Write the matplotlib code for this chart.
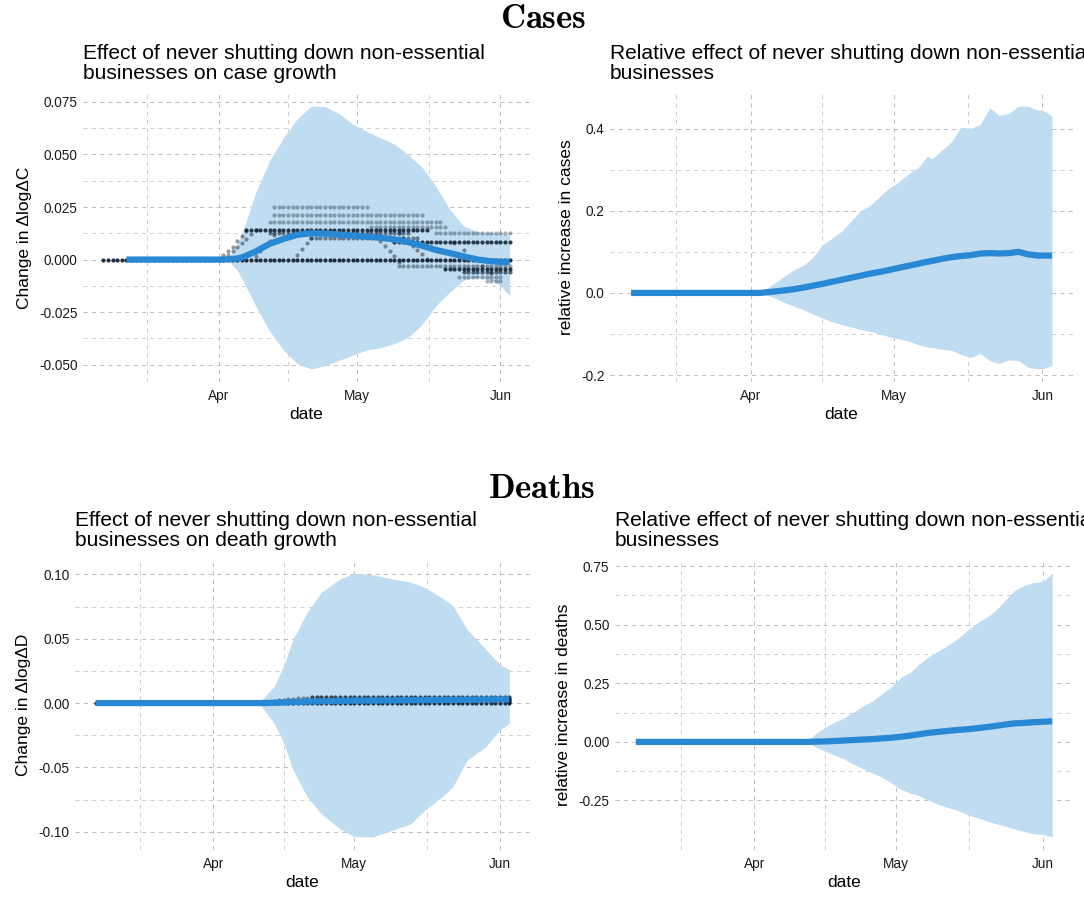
import numpy as np
import matplotlib
matplotlib.use("Agg")
import matplotlib.pyplot as plt
import matplotlib.dates as mdates

plt.rcParams['font.family'] = ['Liberation Sans', 'DejaVu Sans']
plt.rcParams['mathtext.fontset'] = 'cm'
plt.rcParams['axes.unicode_minus'] = False

start = np.datetime64('2020-03-07')   # day 0; Apr 1 = day 25, Jun 3 = day 88

# ---- cases: change in dlogdC (top left)
c_days = [5, 25, 27, 29, 30, 33, 36, 39, 42, 45, 48, 51, 54, 57, 60, 63, 66, 69, 72, 75, 78, 81, 84, 86, 88]
c_hi = [0, 0, 0.0005, 0.007, 0.012, 0.032, 0.047, 0.058, 0.067, 0.073, 0.0728, 0.0695, 0.0645, 0.061, 0.058,
        0.055, 0.050, 0.044, 0.035, 0.024, 0.016, 0.0133, 0.0126, 0.0122, 0.012]
c_lo = [0, 0, -0.0005, -0.005, -0.009, -0.022, -0.034, -0.043, -0.0495, -0.052, -0.0505, -0.048, -0.0455, -0.043,
        -0.042, -0.040, -0.037, -0.031, -0.022, -0.0155, -0.0098, -0.0085, -0.0098, -0.0125, -0.0173]
c_mean = [0, 0, 0.0001, 0.0005, 0.001, 0.0038, 0.0075, 0.0098, 0.0118, 0.0125, 0.0123, 0.0119, 0.0114, 0.0109,
          0.0104, 0.0096, 0.0083, 0.0066, 0.0046, 0.0031, 0.0015, 0.0, -0.0008, -0.0011, -0.0011]

# state-level effects: flat runs (value, first day, last day, opacity)
c_rows = [(0.0, 0, 88, 0.9), (0.0252, 37, 57, 0.35), (0.0212, 37, 69, 0.35), (0.0178, 36, 73, 0.35),
          (0.0155, 58, 74, 0.35), (0.0142, 31, 70, 0.85), (0.0127, 72, 88, 0.35), (0.0125, 36, 66, 0.55),
          (0.0105, 45, 68, 0.5), (0.0084, 63, 88, 0.85), (-0.003, 64, 88, 0.4), (-0.0045, 74, 88, 0.85),
          (-0.006, 78, 88, 0.65), (-0.0085, 77, 86, 0.35), (-0.010, 83, 86, 0.35)]
# state-level effects: sloped stretches (days, values)
c_ramps = [([26, 27, 28, 29, 30, 31], [0.002, 0.004, 0.006, 0.009, 0.011, 0.0135]),
           ([27, 28, 29, 30, 31, 32, 33], [0.002, 0.004, 0.006, 0.008, 0.010, 0.012, 0.014]),
           ([33, 34, 35, 36, 37], [0.0015, 0.004, 0.0065, 0.009, 0.0115]),
           ([42, 43, 44, 45, 46], [0.002, 0.005, 0.008, 0.0105, 0.0125]),
           ([59, 60, 61, 62, 63, 64], [0.0115, 0.009, 0.0065, 0.004, 0.0015, -0.001]),
           ([64, 65, 66, 67, 68, 69, 70], [0.0125, 0.0105, 0.0085, 0.0065, 0.0045, 0.0025, 0.0005]),
           ([76, 78, 80, 82, 84], [0.0080, 0.0045, 0.001, -0.003, -0.0065])]

# ---- cases: relative increase (top right)
rc_days = [0, 27, 30, 32, 34, 36, 38, 40, 42, 44, 46, 48, 50, 52, 54, 56, 58, 60, 62, 63, 65, 67, 69, 71, 73,
           75, 77, 79, 81, 83, 85, 86, 88]
rc_hi = [0, 0, 0.024, 0.040, 0.056, 0.067, 0.086, 0.117, 0.133, 0.150, 0.175, 0.200, 0.213, 0.235, 0.256, 0.271,
         0.290, 0.305, 0.333, 0.327, 0.348, 0.368, 0.404, 0.401, 0.410, 0.451, 0.432, 0.437, 0.455, 0.455, 0.445,
         0.446, 0.431]
rc_lo = [0, 0, -0.012, -0.023, -0.032, -0.041, -0.051, -0.061, -0.070, -0.077, -0.083, -0.089, -0.094, -0.100,
         -0.107, -0.112, -0.117, -0.126, -0.132, -0.133, -0.137, -0.140, -0.150, -0.157, -0.148, -0.165, -0.172,
         -0.163, -0.165, -0.181, -0.185, -0.185, -0.177]
rc_mean = [0, 0, 0.0035, 0.006, 0.009, 0.013, 0.0175, 0.022, 0.027, 0.032, 0.037, 0.042, 0.047, 0.051, 0.056,
           0.061, 0.066, 0.071, 0.076, 0.078, 0.083, 0.087, 0.090, 0.092, 0.096, 0.097, 0.096, 0.097, 0.100,
           0.094, 0.091, 0.091, 0.091]

# ---- deaths: change in dlogdD (bottom left)
d_days = [0, 33, 35, 38, 40, 42, 45, 48, 52, 55, 59, 63, 67, 70, 74, 76, 79, 83, 86, 88]
d_hi = [0, 0, 0.0013, 0.013, 0.029, 0.0496, 0.0705, 0.086, 0.0966, 0.101, 0.0997, 0.0966, 0.094, 0.090, 0.081,
        0.0757, 0.0574, 0.0418, 0.030, 0.026]
d_lo = [0, 0, -0.0013, -0.0157, -0.031, -0.052, -0.073, -0.086, -0.098, -0.104, -0.104, -0.099, -0.094, -0.0835,
        -0.072, -0.065, -0.0444, -0.034, -0.021, -0.0157]
d_mean = [0, 0, 0, 0.0002, 0.0005, 0.0008, 0.0011, 0.0014, 0.0017, 0.0019, 0.002, 0.0021, 0.0022, 0.0023,
          0.0024, 0.0025, 0.0026, 0.0027, 0.0028, 0.0028]
d_rows = [(0.0, 0, 88, 0.9), (0.0045, 46, 88, 0.8)]
d_ramps = [([35, 36, 37, 38, 39, 40, 41, 42, 43, 44, 45],
            [0.0004, 0.0008, 0.0012, 0.0016, 0.002, 0.0024, 0.0028, 0.0032, 0.0036, 0.004, 0.0043]),
           ([88, 88, 88, 88, 88, 88, 88, 88], [0.0005, 0.001, 0.0015, 0.002, 0.0025, 0.003, 0.0035, 0.004])]

# ---- deaths: relative increase (bottom right)
rd_days = [0, 36, 38, 40, 42, 44, 46, 48, 50, 52, 54, 56, 58, 60, 62, 64, 66, 68, 70, 72, 74, 76, 78, 80, 82,
           84, 86, 88]
rd_hi = [0, 0, 0.035, 0.062, 0.085, 0.102, 0.128, 0.152, 0.175, 0.205, 0.235, 0.275, 0.297, 0.335, 0.365, 0.389,
         0.413, 0.44, 0.475, 0.505, 0.53, 0.56, 0.603, 0.645, 0.667, 0.680, 0.685, 0.72]
rd_lo = [0, 0, -0.022, -0.040, -0.057, -0.072, -0.095, -0.115, -0.133, -0.150, -0.175, -0.202, -0.218, -0.231,
         -0.250, -0.267, -0.280, -0.292, -0.310, -0.322, -0.336, -0.348, -0.359, -0.371, -0.382, -0.392, -0.395,
         -0.405]
rd_mean = [0, 0, 0.001, 0.002, 0.004, 0.006, 0.008, 0.010, 0.012, 0.015, 0.018, 0.022, 0.027, 0.033, 0.039,
           0.043, 0.047, 0.051, 0.054, 0.058, 0.063, 0.068, 0.074, 0.079, 0.081, 0.084, 0.086, 0.088]

y_ticks = {'c': [-0.05, -0.025, 0, 0.025, 0.05, 0.075],
           'rc': [-0.2, 0, 0.2, 0.4],
           'd': [-0.1, -0.05, 0, 0.05, 0.1],
           'rd': [-0.25, 0, 0.25, 0.5, 0.75]}

RIBBON = '#bfdcf0'
LINE = '#2888d4'
DOT = '#0b1d2e'
W, H = 1084, 898


def to_dates(days):
    return start + np.asarray(days) * np.timedelta64(1, 'D')


def make_ax(l, t, r, b):
    return fig.add_axes([l / W, 1 - b / H, (r - l) / W, (b - t) / H])


def style(ax, ticks, fmt, ylabel, title, lo, hi):
    rng = max(hi) - min(lo)
    ax.set_ylim(min(lo) - 0.05 * rng, max(hi) + 0.05 * rng)
    x0 = mdates.date2num(start)
    ax.set_xlim(x0 - 4.4, x0 + 88 + 4.4)
    ax.set_yticks(ticks)
    ax.set_yticklabels([fmt.format(v) for v in ticks])
    ax.set_yticks([(a + b) / 2 for a, b in zip(ticks[:-1], ticks[1:])], minor=True)
    ax.set_xticks(mdates.date2num(np.array(['2020-04-01', '2020-05-01', '2020-06-01'], dtype='datetime64[D]')))
    ax.set_xticks(mdates.date2num(np.array(['2020-03-16T12', '2020-04-16', '2020-05-16T12'],
                                           dtype='datetime64[h]')), minor=True)
    ax.xaxis.set_major_formatter(mdates.DateFormatter('%b'))
    ax.tick_params(which='both', length=0, labelsize=9.8, labelcolor='#1a1a1a')
    ax.tick_params(axis='y', pad=4)
    ax.tick_params(axis='x', pad=5)
    ax.grid(which='major', ls=(0, (5, 5)), lw=0.6, color='#b4b4b4')
    ax.grid(which='minor', ls=(0, (5, 5)), lw=0.6, color='#c8c8c8')
    ax.set_axisbelow(True)
    for s in ax.spines.values():
        s.set_visible(False)
    ax.set_xlabel('date', fontsize=12.5, labelpad=3)
    ax.set_ylabel(ylabel, fontsize=12.5, labelpad=5)
    ax.set_title(title, loc='left', fontsize=15.1, pad=10, linespacing=1.1)


def draw(ax, days, lo, hi, mean, rows=(), ramps=()):
    ax.fill_between(to_dates(days), lo, hi, color=RIBBON, lw=0, zorder=1)
    for value, d0, d1, a in rows:
        dd = np.arange(d0, d1 + 1)
        ax.scatter(to_dates(dd), np.full(dd.size, value), s=9, color=DOT, alpha=a, lw=0, zorder=2)
    for dd, vv in ramps:
        ax.scatter(to_dates(dd), vv, s=9, color=DOT, alpha=0.45, lw=0, zorder=2)
    ax.plot(to_dates(days), mean, color=LINE, lw=4.5, solid_capstyle='butt', zorder=3)


fig = plt.figure(figsize=(W / 100, H / 100), dpi=100)

ax1 = make_ax(83, 93, 530, 382)
draw(ax1, c_days, c_lo, c_hi, c_mean, c_rows, c_ramps)
style(ax1, y_ticks['c'], '{:.3f}', 'Change in \u0394log\u0394C',
      'Effect of never shutting down non-essential\nbusinesses on case growth', c_lo, c_hi)

ax2 = make_ax(610, 93, 1073, 382)
draw(ax2, rc_days, rc_lo, rc_hi, rc_mean)
style(ax2, y_ticks['rc'], '{:.1f}', 'relative increase in cases',
      'Relative effect of never shutting down non-essential\nbusinesses', rc_lo, rc_hi)

ax3 = make_ax(75, 560, 530, 850)
draw(ax3, d_days, d_lo, d_hi, d_mean, d_rows, d_ramps)
style(ax3, y_ticks['d'], '{:.2f}', 'Change in \u0394log\u0394D',
      'Effect of never shutting down non-essential\nbusinesses on death growth', d_lo, d_hi)

ax4 = make_ax(615, 560, 1073, 850)
draw(ax4, rd_days, rd_lo, rd_hi, rd_mean)
style(ax4, y_ticks['rd'], '{:.2f}', 'relative increase in deaths',
      'Relative effect of never shutting down non-essential\nbusinesses', rd_lo, rd_hi)

fig.text(543 / W, 1 - 19 / H, r'$\mathbf{Cases}$', ha='center', va='center', fontsize=25)
fig.text(541 / W, 1 - 489 / H, r'$\mathbf{Deaths}$', ha='center', va='center', fontsize=25)

fig.savefig('out.png', dpi=100)
